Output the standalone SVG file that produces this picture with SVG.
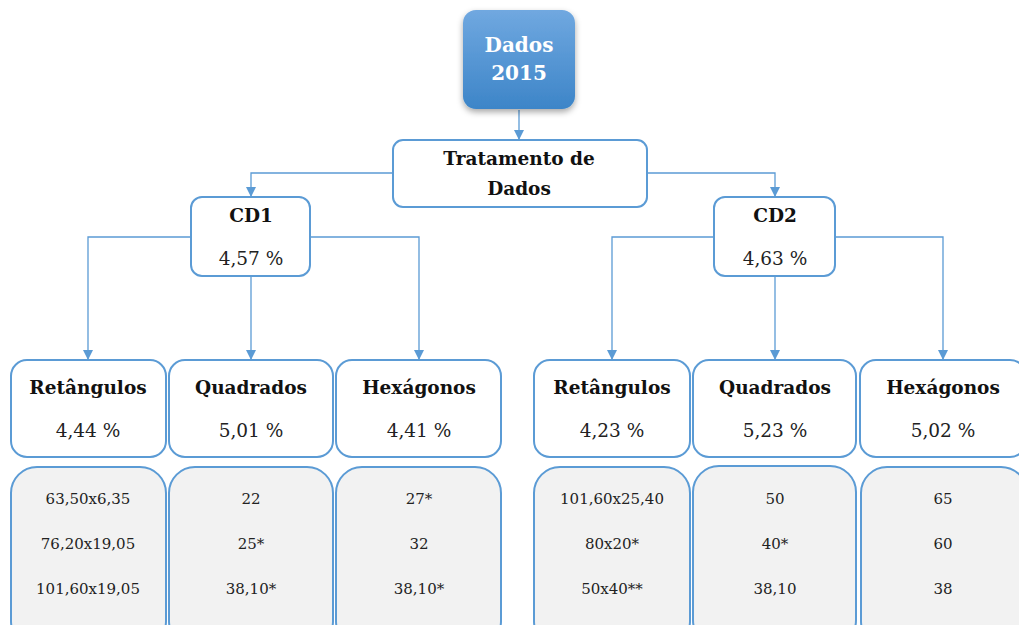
<svg xmlns="http://www.w3.org/2000/svg" width="1019" height="625" viewBox="0 0 1019 625">
  <defs>
    <linearGradient id="gTop" x1="0" y1="0" x2="0" y2="1">
      <stop offset="0" stop-color="#70a8e0"/>
      <stop offset="1" stop-color="#3d85c8"/>
    </linearGradient>
    <filter id="shadow" x="-20%" y="-20%" width="140%" height="150%">
      <feDropShadow dx="0" dy="3" stdDeviation="3" flood-color="#000" flood-opacity="0.35"/>
    </filter>
    <marker id="arrow" viewBox="0 0 10 10" refX="10" refY="5" markerWidth="10" markerHeight="10" markerUnits="userSpaceOnUse" orient="auto">
      <path d="M0,0 L10,5 L0,10 Z" fill="#5b9bd5"/>
    </marker>
  </defs>
  <style>
    .box { fill: #ffffff; stroke: #5b9bd5; stroke-width: 2; }
    .data { fill: #f2f2f2; stroke: #5b9bd5; stroke-width: 2; }
    .conn { fill: none; stroke: #5b9bd5; stroke-width: 1.3; marker-end: url(#arrow); }
    text { font-family: "DejaVu Serif", "Liberation Serif", serif; text-anchor: middle; fill: #111; }
    .title { font-weight: bold; font-size: 18.5px; }
    .pct { font-size: 18.5px; fill: #222; }
    .val { font-size: 15px; fill: #222; }
    .top { font-weight: bold; font-size: 20px; fill: #ffffff; }
  </style>

  <!-- connectors -->
  <g id="connectors">
    <path class="conn" d="M519,110 V140"/>
    <path class="conn" d="M393,173 H251 V197"/>
    <path class="conn" d="M647,173 H775 V197"/>
    <path class="conn" d="M191,237 H88 V360"/>
    <path class="conn" d="M251,276 V360"/>
    <path class="conn" d="M310,237 H419 V360"/>
    <path class="conn" d="M714,237 H612 V360"/>
    <path class="conn" d="M775,276 V360"/>
    <path class="conn" d="M835,237 H943 V360"/>
  </g>

  <g id="dados2015">
    <rect x="463" y="10" width="112" height="99" rx="13" fill="url(#gTop)" filter="url(#shadow)"/>
    <text class="top" x="519" y="52">Dados</text>
    <text class="top" x="519" y="80">2015</text>
  </g>

  <g id="tratamento">
    <rect class="box" x="393" y="140" width="254" height="67" rx="10"/>
    <text class="title" x="519" y="165">Tratamento de</text>
    <text class="title" x="519" y="195">Dados</text>
  </g>

  <g id="cd1">
    <rect class="box" x="191" y="197" width="119" height="79" rx="11"/>
    <text class="title" x="251" y="222">CD1</text>
    <text class="pct" x="251" y="265">4,57 %</text>
  </g>

  <g id="cd2">
    <rect class="box" x="714" y="197" width="121" height="79" rx="11"/>
    <text class="title" x="775" y="222">CD2</text>
    <text class="pct" x="775" y="265">4,63 %</text>
  </g>

  <!-- CD1 branch -->
  <g id="cd1-retangulos">
    <rect class="box" x="11" y="360" width="155" height="97" rx="16"/>
    <text class="title" x="88" y="394">Retângulos</text>
    <text class="pct" x="88" y="437">4,44 %</text>
  </g>
  <g id="cd1-quadrados">
    <rect class="box" x="169" y="360" width="164" height="97" rx="16"/>
    <text class="title" x="251" y="394">Quadrados</text>
    <text class="pct" x="251" y="437">5,01 %</text>
  </g>
  <g id="cd1-hexagonos">
    <rect class="box" x="336" y="360" width="165" height="97" rx="16"/>
    <text class="title" x="419" y="394">Hexágonos</text>
    <text class="pct" x="419" y="437">4,41 %</text>
  </g>

  <!-- CD2 branch -->
  <g id="cd2-retangulos">
    <rect class="box" x="534" y="360" width="156" height="97" rx="16"/>
    <text class="title" x="612" y="394">Retângulos</text>
    <text class="pct" x="612" y="437">4,23 %</text>
  </g>
  <g id="cd2-quadrados">
    <rect class="box" x="693" y="360" width="163" height="97" rx="16"/>
    <text class="title" x="775" y="394">Quadrados</text>
    <text class="pct" x="775" y="437">5,23 %</text>
  </g>
  <g id="cd2-hexagonos">
    <rect class="box" x="860" y="360" width="166" height="97" rx="16"/>
    <text class="title" x="943" y="394">Hexágonos</text>
    <text class="pct" x="943" y="437">5,02 %</text>
  </g>

  <!-- dimension lists -->
  <g id="cd1-retangulos-dim">
    <rect class="data" x="11" y="467" width="155" height="180" rx="26"/>
    <text class="val" x="88" y="504">63,50x6,35</text>
    <text class="val" x="88" y="549">76,20x19,05</text>
    <text class="val" x="88" y="594">101,60x19,05</text>
  </g>
  <g id="cd1-quadrados-dim">
    <rect class="data" x="169" y="467" width="164" height="180" rx="26"/>
    <text class="val" x="251" y="504">22</text>
    <text class="val" x="251" y="549">25*</text>
    <text class="val" x="251" y="594">38,10*</text>
  </g>
  <g id="cd1-hexagonos-dim">
    <rect class="data" x="336" y="467" width="165" height="180" rx="26"/>
    <text class="val" x="419" y="504">27*</text>
    <text class="val" x="419" y="549">32</text>
    <text class="val" x="419" y="594">38,10*</text>
  </g>
  <g id="cd2-retangulos-dim">
    <rect class="data" x="534" y="467" width="156" height="180" rx="26"/>
    <text class="val" x="612" y="504">101,60x25,40</text>
    <text class="val" x="612" y="549">80x20*</text>
    <text class="val" x="612" y="594">50x40**</text>
  </g>
  <g id="cd2-quadrados-dim">
    <rect class="data" x="693" y="466" width="163" height="180" rx="26"/>
    <text class="val" x="775" y="504">50</text>
    <text class="val" x="775" y="549">40*</text>
    <text class="val" x="775" y="594">38,10</text>
  </g>
  <g id="cd2-hexagonos-dim">
    <rect class="data" x="861" y="467" width="166" height="180" rx="26"/>
    <text class="val" x="943" y="504">65</text>
    <text class="val" x="943" y="549">60</text>
    <text class="val" x="943" y="594">38</text>
  </g>
</svg>
